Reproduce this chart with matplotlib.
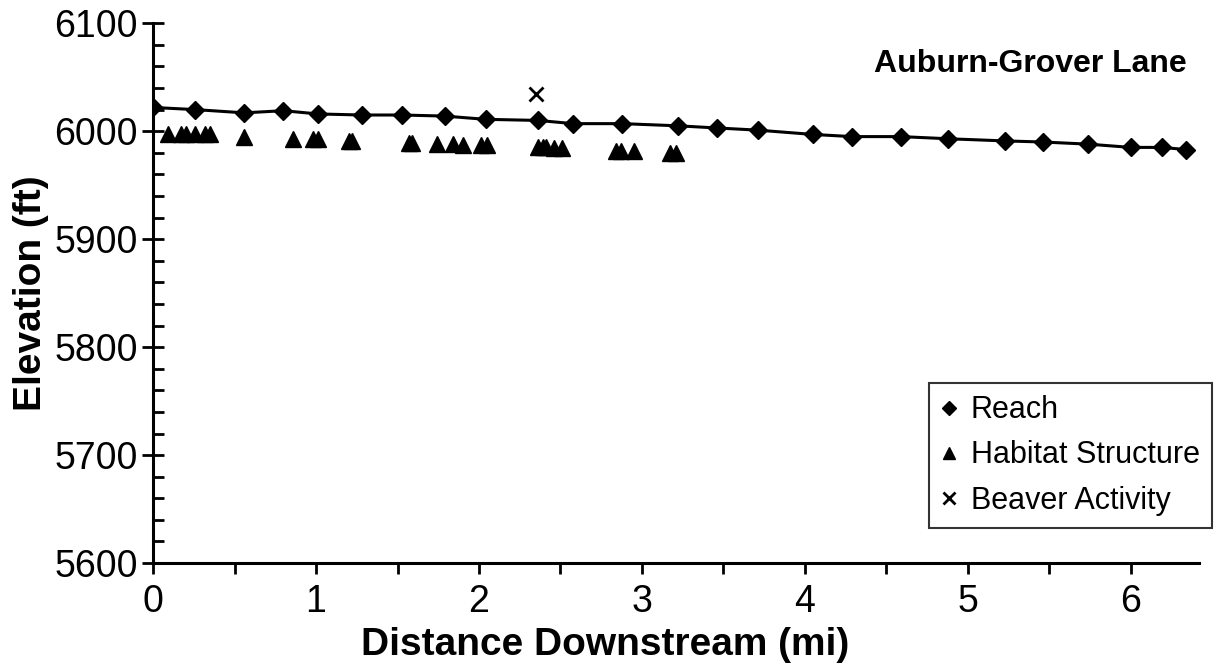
import matplotlib.pyplot as plt
from matplotlib.ticker import MultipleLocator

plt.rcParams['font.family'] = ['Liberation Sans', 'DejaVu Sans']

# reach survey points (mi, ft)
reach_x = [0.0, 0.26, 0.56, 0.80, 1.01, 1.28, 1.53, 1.79, 2.04, 2.36, 2.58,
           2.88, 3.22, 3.46, 3.71, 4.05, 4.29, 4.59, 4.88, 5.23, 5.46, 5.74,
           6.0, 6.19, 6.34]
reach_y = [6022, 6020, 6017, 6019, 6016, 6015, 6015, 6014, 6011, 6010, 6007,
           6007, 6005, 6003, 6001, 5997, 5995, 5995, 5993, 5991, 5990, 5988,
           5985, 5985, 5983]

# habitat structures
hab_x = [0.09, 0.17, 0.20, 0.26, 0.32, 0.35, 0.56, 0.86, 0.98, 1.01,
         1.20, 1.22, 1.57, 1.59, 1.74, 1.84, 1.90, 2.01, 2.05,
         2.36, 2.39, 2.41, 2.46, 2.51, 2.84, 2.87, 2.95, 3.17, 3.21]
hab_y = [5997, 5997, 5997, 5997, 5997, 5997, 5995, 5993, 5993, 5993,
         5991, 5991, 5989, 5989, 5988, 5988, 5987, 5987, 5987,
         5985, 5985, 5985, 5984, 5984, 5982, 5982, 5982, 5980, 5980]

# beaver activity
beaver_x = [2.35]
beaver_y = [6034]

fig = plt.figure(figsize=(12.15, 6.64), dpi=100)
ax = fig.add_axes([0.126, 0.152, 0.861, 0.813])

ax.plot(reach_x, reach_y, '-', color='black', lw=2.2, zorder=2)
ax.plot(reach_x, reach_y, 'D', color='black', ms=9, ls='none', label='Reach', zorder=3)
ax.plot(hab_x, hab_y, '^', color='black', ms=11, ls='none', label='Habitat Structure')
ax.plot(beaver_x, beaver_y, 'x', color='black', ms=10, mew=2, ls='none', label='Beaver Activity')

ax.set_xlim(0, 6.42)
ax.set_ylim(5600, 6100)

ax.spines['top'].set_visible(False)
ax.spines['right'].set_visible(False)
ax.spines['left'].set_linewidth(2.2)
ax.spines['bottom'].set_linewidth(2.2)

ax.xaxis.set_major_locator(MultipleLocator(1))
ax.xaxis.set_minor_locator(MultipleLocator(0.5))
ax.yaxis.set_major_locator(MultipleLocator(100))
ax.yaxis.set_minor_locator(MultipleLocator(20))
ax.tick_params(axis='x', which='both', direction='out', length=8, width=2, labelsize=27, pad=7)
ax.tick_params(axis='y', which='major', direction='inout', length=16, width=2, labelsize=27, pad=3)
ax.tick_params(axis='y', which='minor', direction='in', length=8, width=2)

ax.set_xlabel('Distance Downstream (mi)', fontsize=28, fontweight='bold', labelpad=0)
ax.xaxis.set_label_coords(0.432, -0.118)
ax.set_ylabel('Elevation (ft)', fontsize=28, fontweight='bold', labelpad=4)

ax.text(0.9885, 0.924, 'Auburn-Grover Lane', transform=ax.transAxes, ha='right', va='center',
        fontsize=23, fontweight='bold')

leg = ax.legend(loc='lower right', bbox_to_anchor=(1.012, 0.065), fontsize=22, frameon=True,
                fancybox=False, edgecolor='black', handlelength=0.5, handletextpad=0.45,
                borderpad=0.4, labelspacing=0.5, markerscale=0.8, borderaxespad=0)
leg.get_frame().set_linewidth(1.5)

fig.savefig('out.png', dpi=100)
